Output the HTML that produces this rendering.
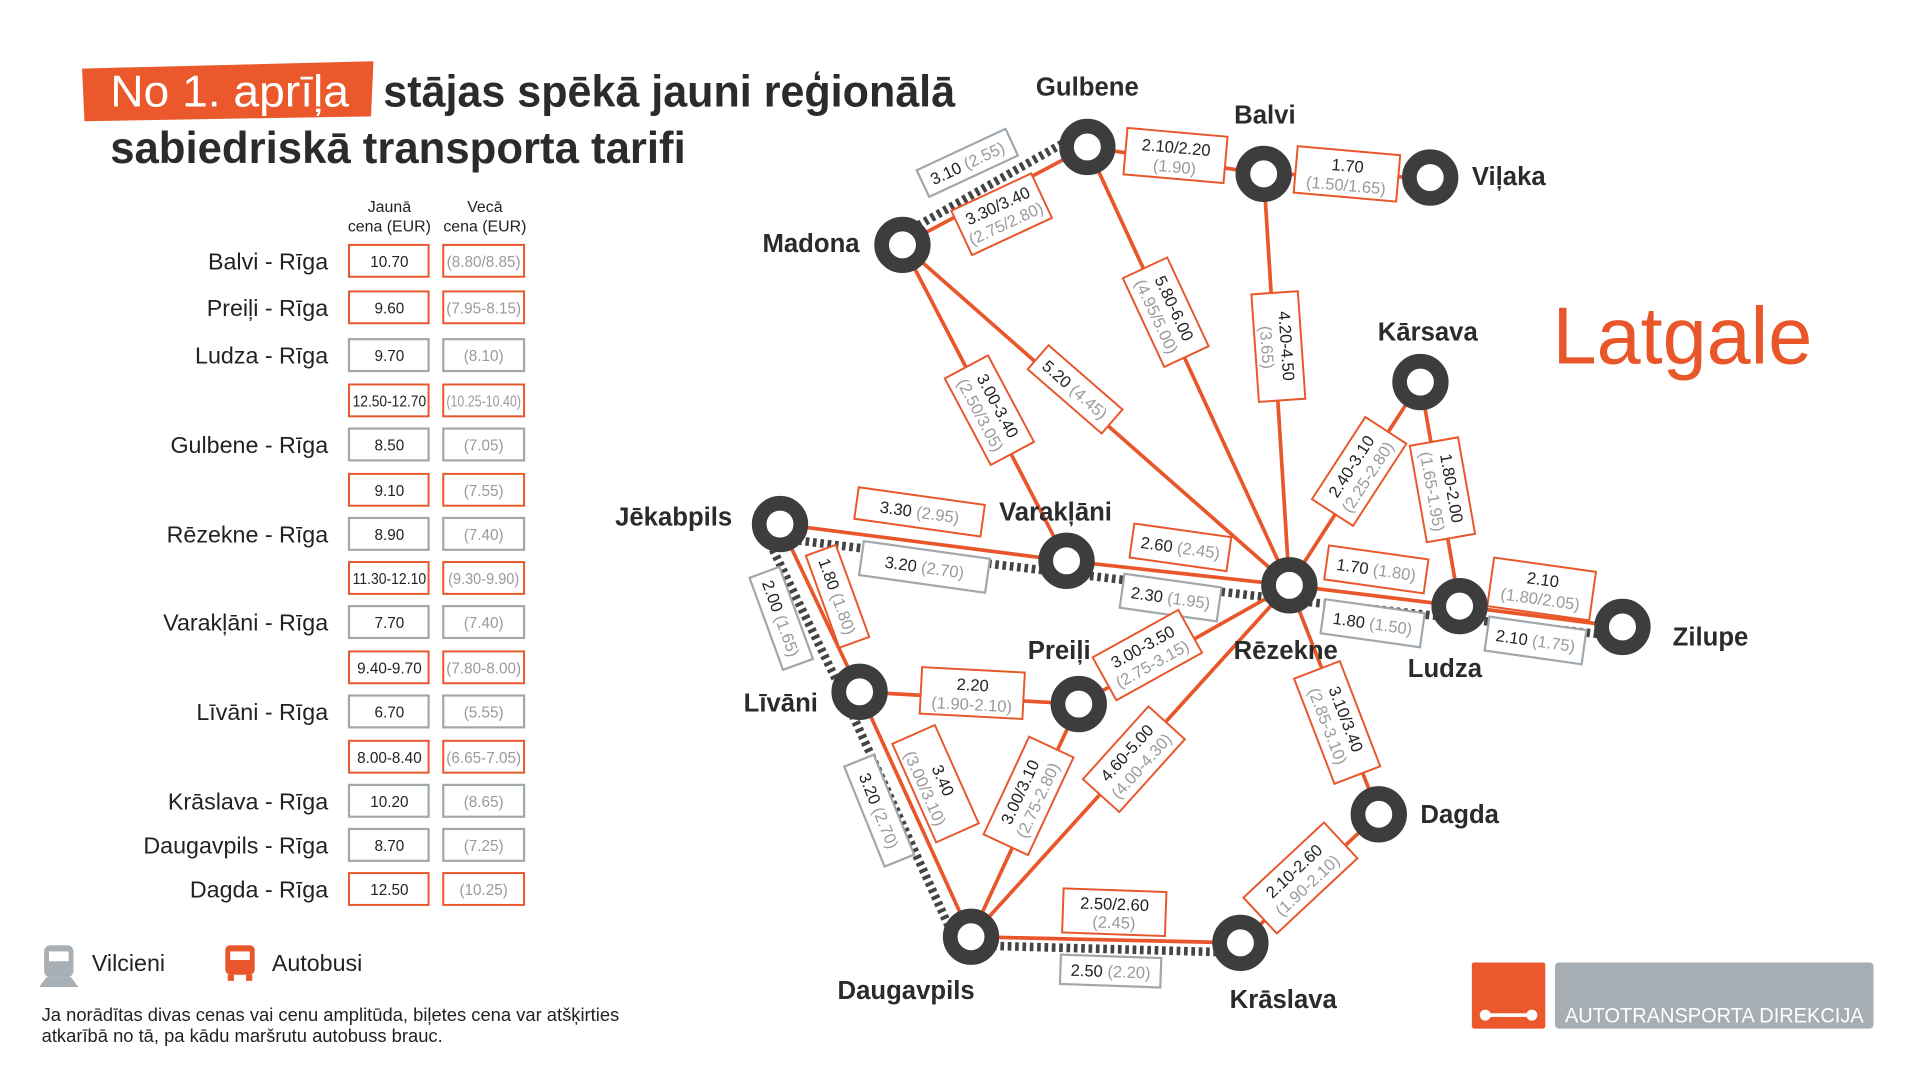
<!DOCTYPE html>
<html><head><meta charset="utf-8"><style>
html,body{margin:0;padding:0;background:#fff;width:1920px;height:1080px;overflow:hidden}
svg{display:block}
text{font-family:"Liberation Sans Narrow","Liberation Sans",sans-serif}
.city{font-size:21px;font-weight:bold;fill:#2b2b2b}
.lb{font-size:13.5px;fill:#222}
.lo{fill:#9a9a9a}
.or{fill:#fff;stroke:#e8562a;stroke-width:1.6}
.gr{fill:#fff;stroke:#a0a8ae;stroke-width:1.8}
.bus{stroke:#e8562a;stroke-width:3;fill:none}
.rail{stroke:#444;stroke-width:7;stroke-dasharray:3 3;fill:none}
.tb{font-size:12.5px;fill:#222}
.to{font-size:12.5px;fill:#9a9a9a}
.rn{font-size:19px;fill:#222}
</style></head><body>
<svg width="1920" height="1080" viewBox="0 0 1568 882" xmlns="http://www.w3.org/2000/svg">
<!-- title -->
<polygon points="67,56 305,50 303,95 69,99" fill="#ea582b"/>
<text x="90" y="87" font-size="36" fill="#fff" textLength="195" lengthAdjust="spacingAndGlyphs">No 1. aprīļa</text>
<text x="313" y="87" font-size="36" fill="#2b2b2b" font-weight="bold" textLength="467" lengthAdjust="spacingAndGlyphs">stājas spēkā jauni reģionālā</text>
<text x="90" y="133" font-size="36" fill="#2b2b2b" font-weight="bold" textLength="470" lengthAdjust="spacingAndGlyphs">sabiedriskā transporta tarifi</text>

<!-- table header -->
<text x="318" y="173" font-size="13" text-anchor="middle" fill="#222">Jaunā</text>
<text x="318" y="189" font-size="13" text-anchor="middle" fill="#222">cena (EUR)</text>
<text x="396" y="173" font-size="13" text-anchor="middle" fill="#222">Vecā</text>
<text x="396" y="189" font-size="13" text-anchor="middle" fill="#222">cena (EUR)</text>

<g>
<g transform="translate(0,213)"><text class="rn" x="268" y="7" text-anchor="end">Balvi - Rīga</text><rect class="or" x="285" y="-13" width="65" height="26"/><rect class="or" x="362" y="-13" width="66" height="26"/><text class="tb" x="318" y="5" text-anchor="middle">10.70</text><text class="to" x="395" y="5" text-anchor="middle">(8.80/8.85)</text></g>
<g transform="translate(0,251)"><text class="rn" x="268" y="7" text-anchor="end">Preiļi - Rīga</text><rect class="or" x="285" y="-13" width="65" height="26"/><rect class="or" x="362" y="-13" width="66" height="26"/><text class="tb" x="318" y="5" text-anchor="middle">9.60</text><text class="to" x="395" y="5" text-anchor="middle">(7.95-8.15)</text></g>
<g transform="translate(0,290)"><text class="rn" x="268" y="7" text-anchor="end">Ludza - Rīga</text><rect class="gr" x="285" y="-13" width="65" height="26"/><rect class="gr" x="362" y="-13" width="66" height="26"/><text class="tb" x="318" y="5" text-anchor="middle">9.70</text><text class="to" x="395" y="5" text-anchor="middle">(8.10)</text></g>
<g transform="translate(0,327)"><rect class="or" x="285" y="-13" width="65" height="26"/><rect class="or" x="362" y="-13" width="66" height="26"/><text class="tb" x="318" y="5" text-anchor="middle" textLength="60" lengthAdjust="spacingAndGlyphs">12.50-12.70</text><text class="to" x="395" y="5" text-anchor="middle" textLength="61" lengthAdjust="spacingAndGlyphs">(10.25-10.40)</text></g>
<g transform="translate(0,363)"><text class="rn" x="268" y="7" text-anchor="end">Gulbene - Rīga</text><rect class="gr" x="285" y="-13" width="65" height="26"/><rect class="gr" x="362" y="-13" width="66" height="26"/><text class="tb" x="318" y="5" text-anchor="middle">8.50</text><text class="to" x="395" y="5" text-anchor="middle">(7.05)</text></g>
<g transform="translate(0,400)"><rect class="or" x="285" y="-13" width="65" height="26"/><rect class="or" x="362" y="-13" width="66" height="26"/><text class="tb" x="318" y="5" text-anchor="middle">9.10</text><text class="to" x="395" y="5" text-anchor="middle">(7.55)</text></g>
<g transform="translate(0,436)"><text class="rn" x="268" y="7" text-anchor="end">Rēzekne - Rīga</text><rect class="gr" x="285" y="-13" width="65" height="26"/><rect class="gr" x="362" y="-13" width="66" height="26"/><text class="tb" x="318" y="5" text-anchor="middle">8.90</text><text class="to" x="395" y="5" text-anchor="middle">(7.40)</text></g>
<g transform="translate(0,472)"><rect class="or" x="285" y="-13" width="65" height="26"/><rect class="or" x="362" y="-13" width="66" height="26"/><text class="tb" x="318" y="5" text-anchor="middle" textLength="60" lengthAdjust="spacingAndGlyphs">11.30-12.10</text><text class="to" x="395" y="5" text-anchor="middle" textLength="58" lengthAdjust="spacingAndGlyphs">(9.30-9.90)</text></g>
<g transform="translate(0,508)"><text class="rn" x="268" y="7" text-anchor="end">Varakļāni - Rīga</text><rect class="gr" x="285" y="-13" width="65" height="26"/><rect class="gr" x="362" y="-13" width="66" height="26"/><text class="tb" x="318" y="5" text-anchor="middle">7.70</text><text class="to" x="395" y="5" text-anchor="middle">(7.40)</text></g>
<g transform="translate(0,545)"><rect class="or" x="285" y="-13" width="65" height="26"/><rect class="or" x="362" y="-13" width="66" height="26"/><text class="tb" x="318" y="5" text-anchor="middle">9.40-9.70</text><text class="to" x="395" y="5" text-anchor="middle">(7.80-8.00)</text></g>
<g transform="translate(0,581)"><text class="rn" x="268" y="7" text-anchor="end">Līvāni - Rīga</text><rect class="gr" x="285" y="-13" width="65" height="26"/><rect class="gr" x="362" y="-13" width="66" height="26"/><text class="tb" x="318" y="5" text-anchor="middle">6.70</text><text class="to" x="395" y="5" text-anchor="middle">(5.55)</text></g>
<g transform="translate(0,618)"><rect class="or" x="285" y="-13" width="65" height="26"/><rect class="or" x="362" y="-13" width="66" height="26"/><text class="tb" x="318" y="5" text-anchor="middle">8.00-8.40</text><text class="to" x="395" y="5" text-anchor="middle">(6.65-7.05)</text></g>
<g transform="translate(0,654)"><text class="rn" x="268" y="7" text-anchor="end">Krāslava - Rīga</text><rect class="gr" x="285" y="-13" width="65" height="26"/><rect class="gr" x="362" y="-13" width="66" height="26"/><text class="tb" x="318" y="5" text-anchor="middle">10.20</text><text class="to" x="395" y="5" text-anchor="middle">(8.65)</text></g>
<g transform="translate(0,690)"><text class="rn" x="268" y="7" text-anchor="end">Daugavpils - Rīga</text><rect class="gr" x="285" y="-13" width="65" height="26"/><rect class="gr" x="362" y="-13" width="66" height="26"/><text class="tb" x="318" y="5" text-anchor="middle">8.70</text><text class="to" x="395" y="5" text-anchor="middle">(7.25)</text></g>
<g transform="translate(0,726)"><text class="rn" x="268" y="7" text-anchor="end">Dagda - Rīga</text><rect class="or" x="285" y="-13" width="65" height="26"/><rect class="or" x="362" y="-13" width="66" height="26"/><text class="tb" x="318" y="5" text-anchor="middle">12.50</text><text class="to" x="395" y="5" text-anchor="middle">(10.25)</text></g>
</g>

<!-- legend -->
<g fill="#a8b0b6"><rect x="36" y="772" width="24" height="26" rx="5"/><polygon points="38,798 58,798 64,806 32,806"/></g>
<rect x="40" y="777" width="16" height="8" fill="#fff"/>
<text x="75" y="793" font-size="19" fill="#222">Vilcieni</text>
<rect x="184" y="772" width="24" height="24" rx="4" fill="#e8562a"/>
<rect x="186" y="796" width="5" height="5" fill="#e8562a"/><rect x="201" y="796" width="5" height="5" fill="#e8562a"/>
<rect x="188" y="777" width="16" height="7" fill="#fff"/>
<text x="222" y="793" font-size="19" fill="#222">Autobusi</text>
<text x="34" y="834" font-size="15" fill="#222">Ja norādītas divas cenas vai cenu amplitūda, biļetes cena var atšķirties</text>
<text x="34" y="851" font-size="15" fill="#222">atkarībā no tā, pa kādu maršrutu autobuss brauc.</text>

<!-- Latgale -->
<text x="1268" y="297" font-size="66" fill="#e8562a" textLength="212" lengthAdjust="spacingAndGlyphs">Latgale</text>

<!-- rail -->
<line class="rail" x1="750" y1="184" x2="870" y2="116"/>
<polyline class="rail" points="640,440 871,468 1053,490 1192,505 1325,520"/>
<polyline class="rail" points="626,438 690,570 781,770"/>
<line class="rail" x1="793" y1="772" x2="1013" y2="778"/>

<!-- bus -->
<g class="bus">
<line x1="737" y1="200" x2="888" y2="120"/>
<line x1="888" y1="120" x2="1032" y2="142"/>
<line x1="1032" y1="142" x2="1168" y2="145"/>
<line x1="888" y1="120" x2="1053" y2="478"/>
<line x1="1032" y1="142" x2="1053" y2="478"/>
<line x1="737" y1="200" x2="871" y2="458"/>
<line x1="737" y1="200" x2="1053" y2="478"/>
<line x1="1160" y1="312" x2="1053" y2="478"/>
<line x1="1160" y1="312" x2="1192" y2="495"/>
<polyline points="637,428 871,458 1053,478 1192,495 1325,512"/>
<line x1="637" y1="428" x2="702" y2="565"/>
<line x1="702" y1="565" x2="881" y2="575"/>
<line x1="881" y1="575" x2="1053" y2="478"/>
<line x1="881" y1="575" x2="793" y2="765"/>
<line x1="793" y1="765" x2="1053" y2="478"/>
<line x1="1053" y1="478" x2="1126" y2="665"/>
<line x1="702" y1="565" x2="793" y2="765"/>
<line x1="793" y1="765" x2="1013" y2="770"/>
<line x1="1013" y1="770" x2="1126" y2="665"/>
</g>

<!-- labels -->
<g transform="translate(790,133) rotate(-25)"><rect class="gr" x="-40" y="-12" width="80" height="24"/><text class="lb" x="0" y="5" text-anchor="middle">3.10 <tspan class="lo">(2.55)</tspan></text></g>
<g transform="translate(818,175) rotate(-25)"><rect class="or" x="-36" y="-20" width="72" height="40"/><text class="lb" x="0" y="-3" text-anchor="middle">3.30/3.40</text><text class="lb lo" x="0" y="13" text-anchor="middle">(2.75/2.80)</text></g>
<g transform="translate(960,127) rotate(5)"><rect class="or" x="-41" y="-19" width="82" height="38"/><text class="lb" x="0" y="-2" text-anchor="middle">2.10/2.20</text><text class="lb lo" x="0" y="14" text-anchor="middle">(1.90)</text></g>
<g transform="translate(1100,142) rotate(5)"><rect class="or" x="-42" y="-19" width="84" height="38"/><text class="lb" x="0" y="-2" text-anchor="middle">1.70</text><text class="lb lo" x="0" y="14" text-anchor="middle">(1.50/1.65)</text></g>
<g transform="translate(952,255) rotate(65)"><rect class="or" x="-40" y="-20" width="80" height="40"/><text class="lb" x="0" y="-3" text-anchor="middle">5.80-6.00</text><text class="lb lo" x="0" y="13" text-anchor="middle">(4.95/5.00)</text></g>
<g transform="translate(1044,283) rotate(86)"><rect class="or" x="-44" y="-19" width="88" height="38"/><text class="lb" x="0" y="-2" text-anchor="middle">4.20-4.50</text><text class="lb lo" x="0" y="14" text-anchor="middle">(3.65)</text></g>
<g transform="translate(808,335) rotate(62)"><rect class="or" x="-40" y="-20" width="80" height="40"/><text class="lb" x="0" y="-3" text-anchor="middle">3.00-3.40</text><text class="lb lo" x="0" y="13" text-anchor="middle">(2.50/3.05)</text></g>
<g transform="translate(878,318) rotate(41)"><rect class="or" x="-40" y="-13" width="80" height="26"/><text class="lb" x="0" y="5" text-anchor="middle">5.20 <tspan class="lo">(4.45)</tspan></text></g>
<g transform="translate(1110,385) rotate(-57)"><rect class="or" x="-40" y="-20" width="80" height="40"/><text class="lb" x="0" y="-3" text-anchor="middle">2.40-3.10</text><text class="lb lo" x="0" y="13" text-anchor="middle">(2.25-2.80)</text></g>
<g transform="translate(1178,400) rotate(80)"><rect class="or" x="-40" y="-20" width="80" height="40"/><text class="lb" x="0" y="-3" text-anchor="middle">1.80-2.00</text><text class="lb lo" x="0" y="13" text-anchor="middle">(1.65-1.95)</text></g>
<g transform="translate(751,418) rotate(8)"><rect class="or" x="-52" y="-13" width="104" height="26"/><text class="lb" x="0" y="5" text-anchor="middle">3.30 <tspan class="lo">(2.95)</tspan></text></g>
<g transform="translate(755,463) rotate(8)"><rect class="gr" x="-52" y="-14" width="104" height="28"/><text class="lb" x="0" y="5" text-anchor="middle">3.20 <tspan class="lo">(2.70)</tspan></text></g>
<g transform="translate(964,447) rotate(8)"><rect class="or" x="-40" y="-14" width="80" height="28"/><text class="lb" x="0" y="5" text-anchor="middle">2.60 <tspan class="lo">(2.45)</tspan></text></g>
<g transform="translate(956,488) rotate(8)"><rect class="gr" x="-40" y="-14" width="80" height="28"/><text class="lb" x="0" y="5" text-anchor="middle">2.30 <tspan class="lo">(1.95)</tspan></text></g>
<g transform="translate(1124,465) rotate(8)"><rect class="or" x="-41" y="-14" width="82" height="28"/><text class="lb" x="0" y="5" text-anchor="middle">1.70 <tspan class="lo">(1.80)</tspan></text></g>
<g transform="translate(1121,509) rotate(8)"><rect class="gr" x="-41" y="-14" width="82" height="28"/><text class="lb" x="0" y="5" text-anchor="middle">1.80 <tspan class="lo">(1.50)</tspan></text></g>
<g transform="translate(1259,481) rotate(8)"><rect class="or" x="-42" y="-20" width="84" height="40"/><text class="lb" x="0" y="-3" text-anchor="middle">2.10</text><text class="lb lo" x="0" y="13" text-anchor="middle">(1.80/2.05)</text></g>
<g transform="translate(1254,523) rotate(8)"><rect class="gr" x="-40" y="-14" width="80" height="28"/><text class="lb" x="0" y="5" text-anchor="middle">2.10 <tspan class="lo">(1.75)</tspan></text></g>
<g transform="translate(684,487) rotate(70)"><rect class="or" x="-40" y="-13" width="80" height="26"/><text class="lb" x="0" y="5" text-anchor="middle">1.80 <tspan class="lo">(1.80)</tspan></text></g>
<g transform="translate(638,505) rotate(70)"><rect class="gr" x="-40" y="-13" width="80" height="26"/><text class="lb" x="0" y="5" text-anchor="middle">2.00 <tspan class="lo">(1.65)</tspan></text></g>
<g transform="translate(794,566) rotate(3)"><rect class="or" x="-42" y="-19" width="84" height="38"/><text class="lb" x="0" y="-2" text-anchor="middle">2.20</text><text class="lb lo" x="0" y="14" text-anchor="middle">(1.90-2.10)</text></g>
<g transform="translate(937,535) rotate(-29)"><rect class="or" x="-40" y="-20" width="80" height="40"/><text class="lb" x="0" y="-3" text-anchor="middle">3.00-3.50</text><text class="lb lo" x="0" y="13" text-anchor="middle">(2.75-3.15)</text></g>
<g transform="translate(764,640) rotate(66)"><rect class="or" x="-44" y="-19" width="88" height="38"/><text class="lb" x="0" y="-2" text-anchor="middle">3.40</text><text class="lb lo" x="0" y="14" text-anchor="middle">(3.00/3.10)</text></g>
<g transform="translate(718,662) rotate(68)"><rect class="gr" x="-44" y="-13" width="88" height="26"/><text class="lb" x="0" y="5" text-anchor="middle">3.20 <tspan class="lo">(2.70)</tspan></text></g>
<g transform="translate(840,650) rotate(-65)"><rect class="or" x="-44" y="-20" width="88" height="40"/><text class="lb" x="0" y="-3" text-anchor="middle">3.00/3.10</text><text class="lb lo" x="0" y="13" text-anchor="middle">(2.75-2.80)</text></g>
<g transform="translate(926,620) rotate(-48)"><rect class="or" x="-40" y="-20" width="80" height="40"/><text class="lb" x="0" y="-3" text-anchor="middle">4.60-5.00</text><text class="lb lo" x="0" y="13" text-anchor="middle">(4.00-4.30)</text></g>
<g transform="translate(1092,590) rotate(69)"><rect class="or" x="-46" y="-20" width="92" height="40"/><text class="lb" x="0" y="-3" text-anchor="middle">3.10/3.40</text><text class="lb lo" x="0" y="13" text-anchor="middle">(2.85-3.10)</text></g>
<g transform="translate(1062,717) rotate(-43)"><rect class="or" x="-45" y="-20" width="90" height="40"/><text class="lb" x="0" y="-3" text-anchor="middle">2.10-2.60</text><text class="lb lo" x="0" y="13" text-anchor="middle">(1.90-2.10)</text></g>
<g transform="translate(910,745) rotate(2)"><rect class="or" x="-42" y="-18" width="84" height="36"/><text class="lb" x="0" y="-2" text-anchor="middle">2.50/2.60</text><text class="lb lo" x="0" y="13" text-anchor="middle">(2.45)</text></g>
<g transform="translate(907,793) rotate(2)"><rect class="gr" x="-41" y="-12" width="82" height="24"/><text class="lb" x="0" y="5" text-anchor="middle">2.50 <tspan class="lo">(2.20)</tspan></text></g>

<!-- nodes -->
<g fill="#fff" stroke="#3d3d3d" stroke-width="12">
<circle cx="888" cy="120" r="17"/><circle cx="1032" cy="142" r="17"/><circle cx="1168" cy="145" r="17"/>
<circle cx="737" cy="200" r="17"/><circle cx="1160" cy="312" r="17"/><circle cx="637" cy="428" r="17"/>
<circle cx="871" cy="458" r="17"/><circle cx="1053" cy="478" r="17"/><circle cx="1192" cy="495" r="17"/>
<circle cx="1325" cy="512" r="17"/><circle cx="702" cy="565" r="17"/><circle cx="881" cy="575" r="17"/>
<circle cx="1126" cy="665" r="17"/><circle cx="793" cy="765" r="17"/><circle cx="1013" cy="770" r="17"/>
</g>

<!-- city names -->
<text class="city" x="888" y="78" text-anchor="middle">Gulbene</text>
<text class="city" x="1033" y="101" text-anchor="middle">Balvi</text>
<text class="city" x="1202" y="151">Viļaka</text>
<text class="city" x="702" y="206" text-anchor="end">Madona</text>
<text class="city" x="1166" y="278" text-anchor="middle">Kārsava</text>
<text class="city" x="598" y="429" text-anchor="end">Jēkabpils</text>
<text class="city" x="862" y="425" text-anchor="middle">Varakļāni</text>
<text class="city" x="1050" y="538" text-anchor="middle">Rēzekne</text>
<text class="city" x="1180" y="553" text-anchor="middle">Ludza</text>
<text class="city" x="1366" y="527">Zilupe</text>
<text class="city" x="668" y="581" text-anchor="end">Līvāni</text>
<text class="city" x="865" y="538" text-anchor="middle">Preiļi</text>
<text class="city" x="1160" y="672">Dagda</text>
<text class="city" x="740" y="816" text-anchor="middle">Daugavpils</text>
<text class="city" x="1048" y="823" text-anchor="middle">Krāslava</text>

<!-- logo -->
<rect x="1202" y="786" width="60" height="54" rx="2" fill="#ea582b"/>
<circle cx="1213" cy="829" r="4.5" fill="#fff"/><circle cx="1251" cy="829" r="4.5" fill="#fff"/><rect x="1213" y="827.5" width="38" height="3" fill="#fff"/>
<rect x="1270" y="786" width="260" height="54" rx="3" fill="#a6adb3"/>
<text x="1278" y="835" font-size="17" fill="#fff" textLength="244" lengthAdjust="spacingAndGlyphs">AUTOTRANSPORTA DIREKCIJA</text>
</svg>
</body></html>
